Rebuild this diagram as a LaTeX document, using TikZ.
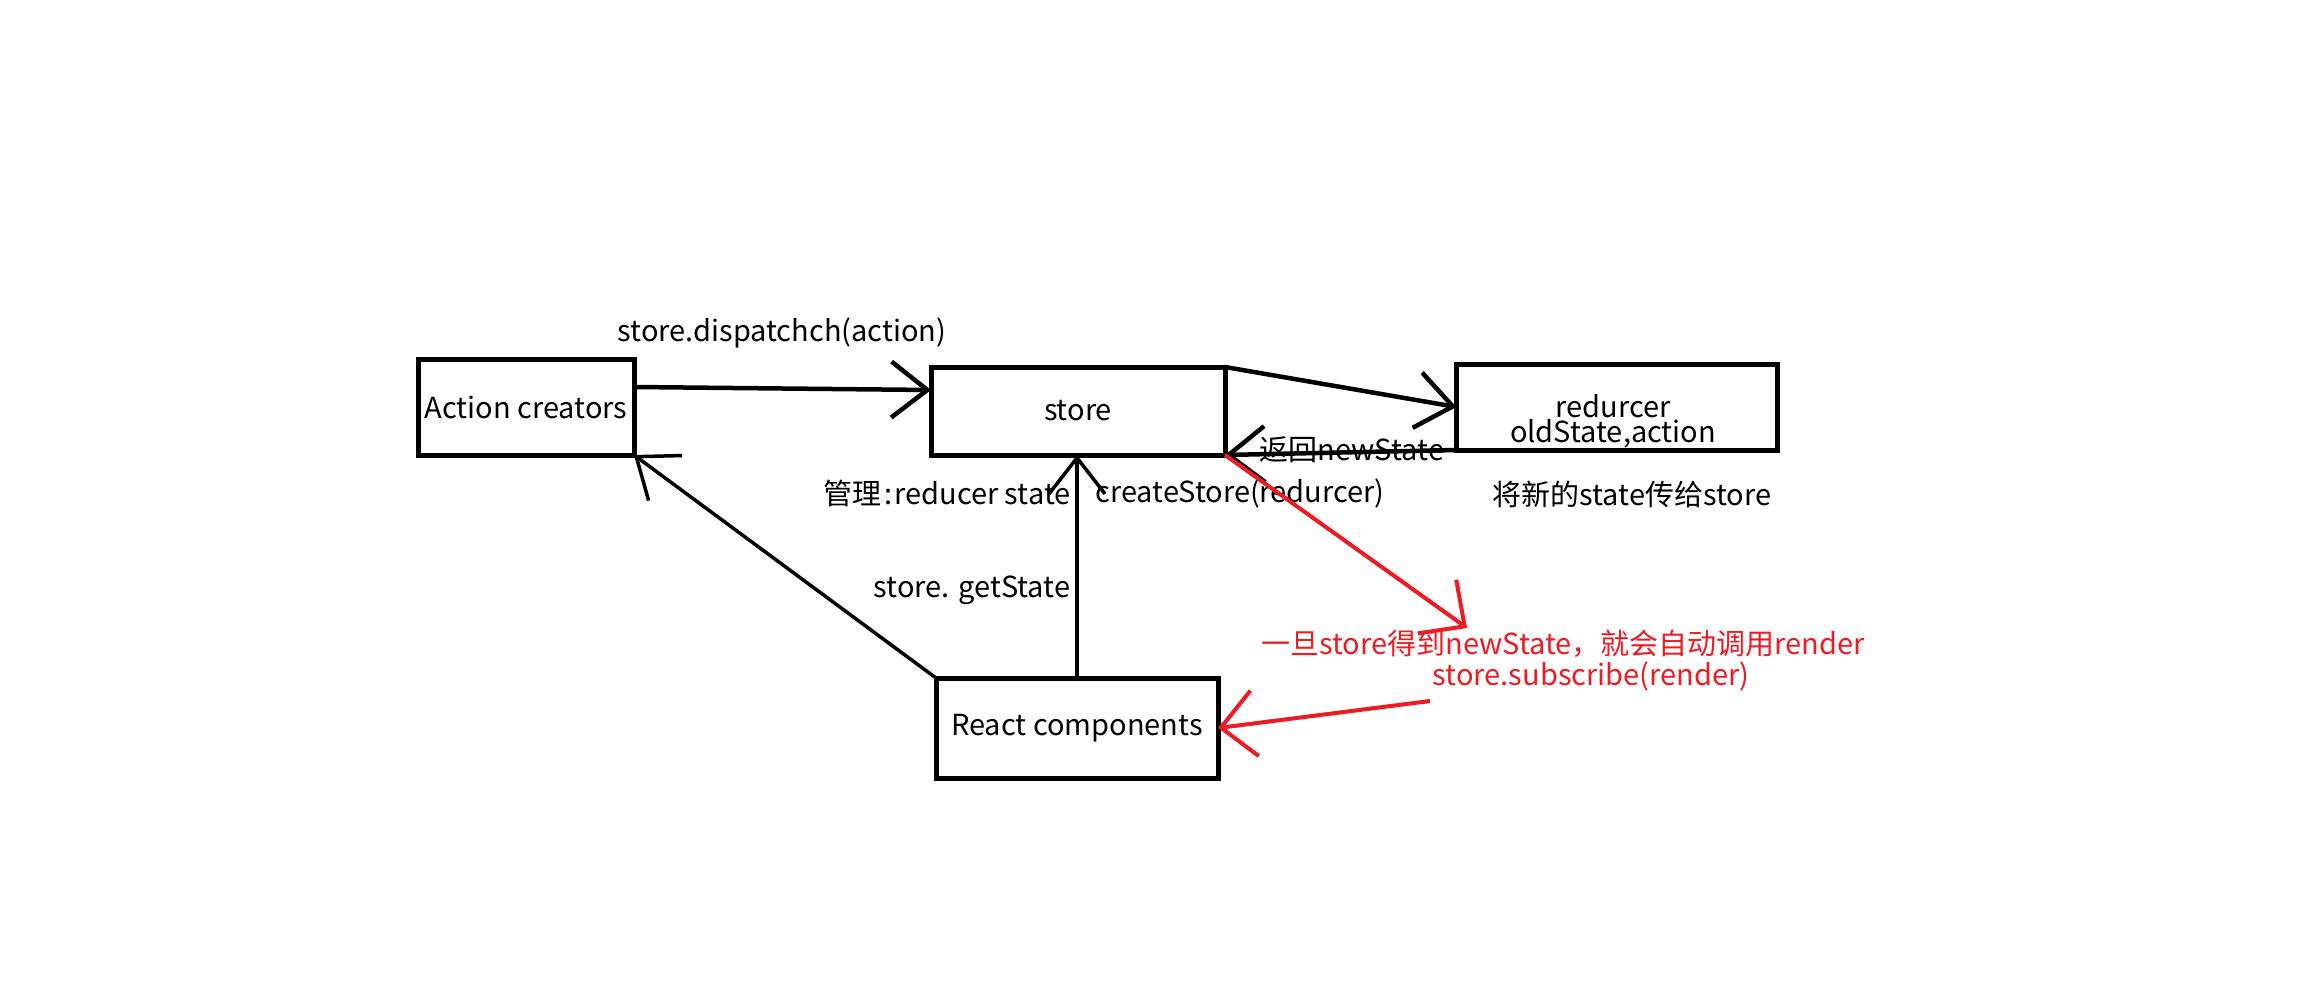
\documentclass[tikz,border=0pt]{standalone}
\usepackage{fontspec}
\setmainfont{Noto Sans CJK SC}
\usetikzlibrary{arrows.meta}
\definecolor{pred}{RGB}{237,28,36}
\begin{document}
\begin{tikzpicture}[x=1pt,y=-1pt,
  every node/.style={font=\fontsize{29pt}{25pt}\selectfont},
  box/.style={draw,line width=5pt,inner sep=0pt,outer sep=0pt},
  lbl/.style={inner sep=0pt},
  blk/.style={line width=4.5pt,-{Straight Barb[length=36pt,width=56pt]}},
  blkthin/.style={line width=3.5pt,-{Straight Barb[length=36pt,width=56pt]}},
  redarr/.style={draw=pred,line width=4pt,-{Straight Barb[length=34pt,width=66pt]}}]
\fill[white] (0,0) rectangle (2300,1000);
\useasboundingbox (0,0) rectangle (2300,1000);
% boxes
\node[box,minimum width=216pt,minimum height=96pt] (ac) at (526,407) {Action creators};
\node[box,minimum width=294pt,minimum height=88pt] (st) at (1078,411) {store};
\node[box,minimum width=321pt,minimum height=86pt] (rd) at (1617,407) {};
\node[lbl,align=center] (rdt) at (1613,421) {redurcer\\oldState,action};
\node[box,minimum width=282pt,minimum height=100pt] (rc) at (1077,728) {React components};
% labels
\node[lbl] (l1) at (782,333) {store.dispatchch(action)};
\node[lbl] (l2) at (1352,450) {返回newState};
\node[lbl] (l3) at (947,493) {管理\hspace{3pt}:\hspace{2pt}reducer state};
\node[lbl] (l4) at (1240,493) {createStore(redurcer)};
\node[lbl] (l5) at (1632,494) {将新的state传给store};
\node[lbl] (l6) at (972,590) {store. getState};
\node[lbl,text=pred] (l7) at (1563,644) {一旦store得到newState，就会自动调用render};
\node[lbl,text=pred] (l8) at (1591,676) {store.subscribe(render)};
% connectors
\draw[blk] ([yshift=20pt]ac.east) -- ([yshift=21pt]st.west);
\draw[blk] (st.north east) -- (rd.west);
\draw[blk] (rd.south west) -- (st.south east);
\draw[blkthin] (rc.north) -- (rc.north |- st.south);
\draw[blkthin] (rc.north west) -- (ac.south east);
\coordinate (rt) at (1467,628);
\coordinate (rs) at (1430,701);
\draw[redarr] (st.south east) -- (rt);
\draw[redarr] (rs) -- (rc.east);
\end{tikzpicture}
\end{document}
